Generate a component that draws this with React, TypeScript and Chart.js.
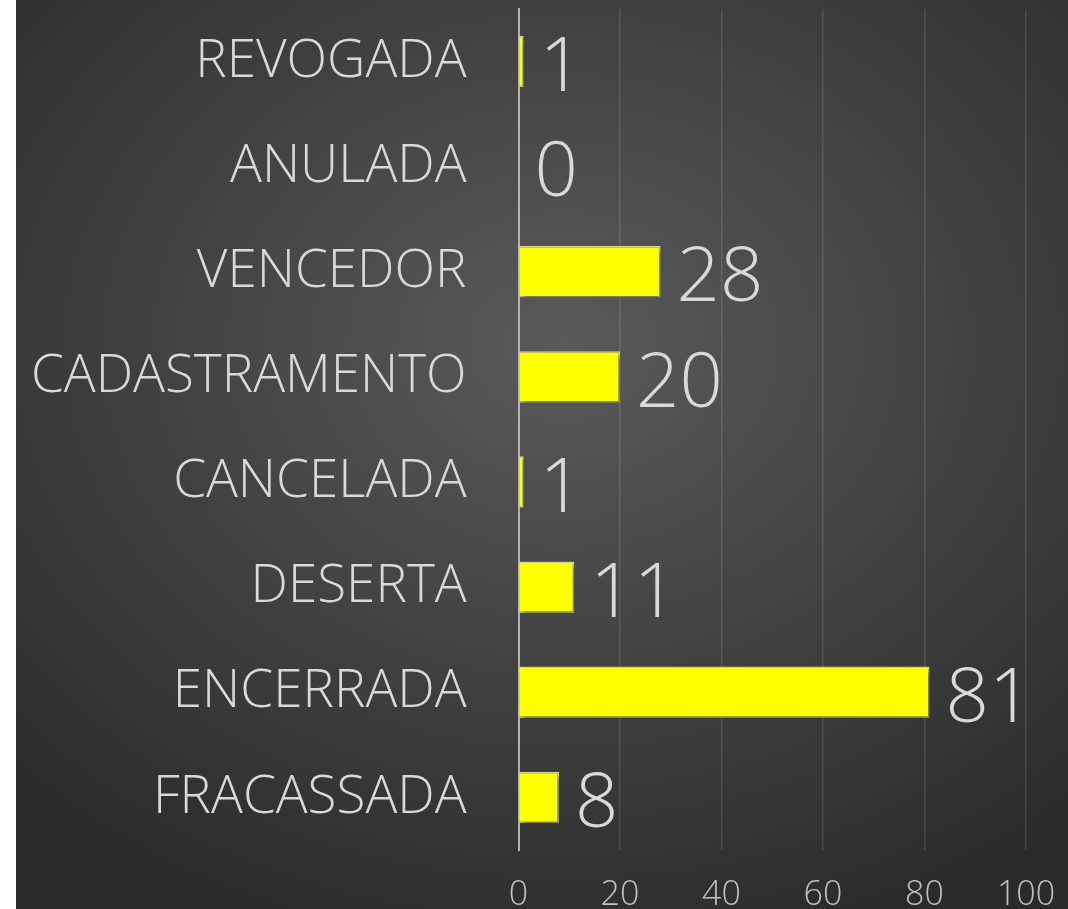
import React, { useEffect, useRef } from "react";
import { Chart, registerables } from "chart.js";

Chart.register(...registerables);

const categories = [
  "REVOGADA",
  "ANULADA",
  "VENCEDOR",
  "CADASTRAMENTO",
  "CANCELADA",
  "DESERTA",
  "ENCERRADA",
  "FRACASSADA",
];
const values = [1, 0, 28, 20, 1, 11, 81, 8];
const xTicks = [0, 20, 40, 60, 80, 100];

const FONT = "'Open Sans', 'DejaVu Sans', sans-serif";

const shadowPlugin = {
  id: "barShadow",
  beforeDatasetsDraw(chart: any) {
    const ctx = chart.ctx;
    ctx.save();
    ctx.shadowColor = "rgba(0,0,0,0.55)";
    ctx.shadowBlur = 6;
    ctx.shadowOffsetX = 3;
    ctx.shadowOffsetY = 3;
  },
  afterDatasetsDraw(chart: any) {
    chart.ctx.restore();
  },
};

const valueLabelPlugin = {
  id: "valueLabels",
  afterDraw(chart: any) {
    const ctx = chart.ctx;
    const meta = chart.getDatasetMeta(0);
    ctx.save();
    ctx.fillStyle = "#d9d9d9";
    ctx.font = `300 76px ${FONT}`;
    ctx.textAlign = "left";
    ctx.textBaseline = "middle";
    meta.data.forEach((bar: any, i: number) => {
      ctx.fillText(String(values[i]), bar.x + 16, bar.y + 8);
    });
    ctx.restore();
  },
};

export default function App() {
  const ref = useRef<HTMLCanvasElement | null>(null);
  useEffect(() => {
    if (!ref.current) return;
    const chart = new Chart(ref.current, {
      type: "bar",
      data: {
        labels: categories,
        datasets: [
          {
            data: values,
            backgroundColor: "#ffff00",
            borderColor: "#d6e58c",
            borderWidth: 1.5,
            borderSkipped: "left",
            categoryPercentage: 1,
            barPercentage: 0.49,
          },
        ],
      },
      options: {
        indexAxis: "y",
        animation: false,
        responsive: false,
        maintainAspectRatio: false,
        layout: { padding: { top: 9, right: 42, left: 0, bottom: 0 } },
        plugins: {
          legend: { display: false },
          tooltip: { enabled: false },
        },
        scales: {
          x: {
            min: 0,
            max: 100,
            afterBuildTicks(axis: any) {
              axis.ticks = xTicks.map((v) => ({ value: v }));
            },
            afterFit(axis: any) {
              axis.height = 59;
              axis.paddingLeft = 0;
              axis.paddingRight = 0;
              axis.paddingTop = 0;
              axis.paddingBottom = 0;
            },
            grid: {
              color: "rgba(255,255,255,0.12)",
              lineWidth: 1.5,
              drawTicks: false,
            },
            border: { display: false },
            ticks: {
              color: "#c0c0c0",
              font: { family: FONT, size: 34, weight: "300" as any },
              padding: 25,
            },
          },
          y: {
            afterFit(axis: any) {
              axis.width = 502.5;
              axis.paddingTop = 0;
              axis.paddingBottom = 0;
              axis.paddingLeft = 0;
              axis.paddingRight = 0;
            },
            grid: { display: false, drawTicks: false },
            border: { display: true, color: "#b4b4b4", width: 2 },
            ticks: {
              color: "#d9d9d9",
              font: { family: FONT, size: 53, weight: "300" as any },
              padding: 52,
            },
          },
        },
      },
      plugins: [shadowPlugin, valueLabelPlugin],
    });
    return () => chart.destroy();
  }, []);

  return (
    <div
      style={{
        position: "absolute",
        left: 16,
        top: 0,
        width: 1052,
        height: 909,
        background:
          "radial-gradient(ellipse 75% 70% at 52% 38%, #5a5a5a 0%, #444444 45%, #2a2a2a 100%)",
      }}
    >
      <canvas ref={ref} width={1052} height={909} style={{ display: "block" }} />
    </div>
  );
}
